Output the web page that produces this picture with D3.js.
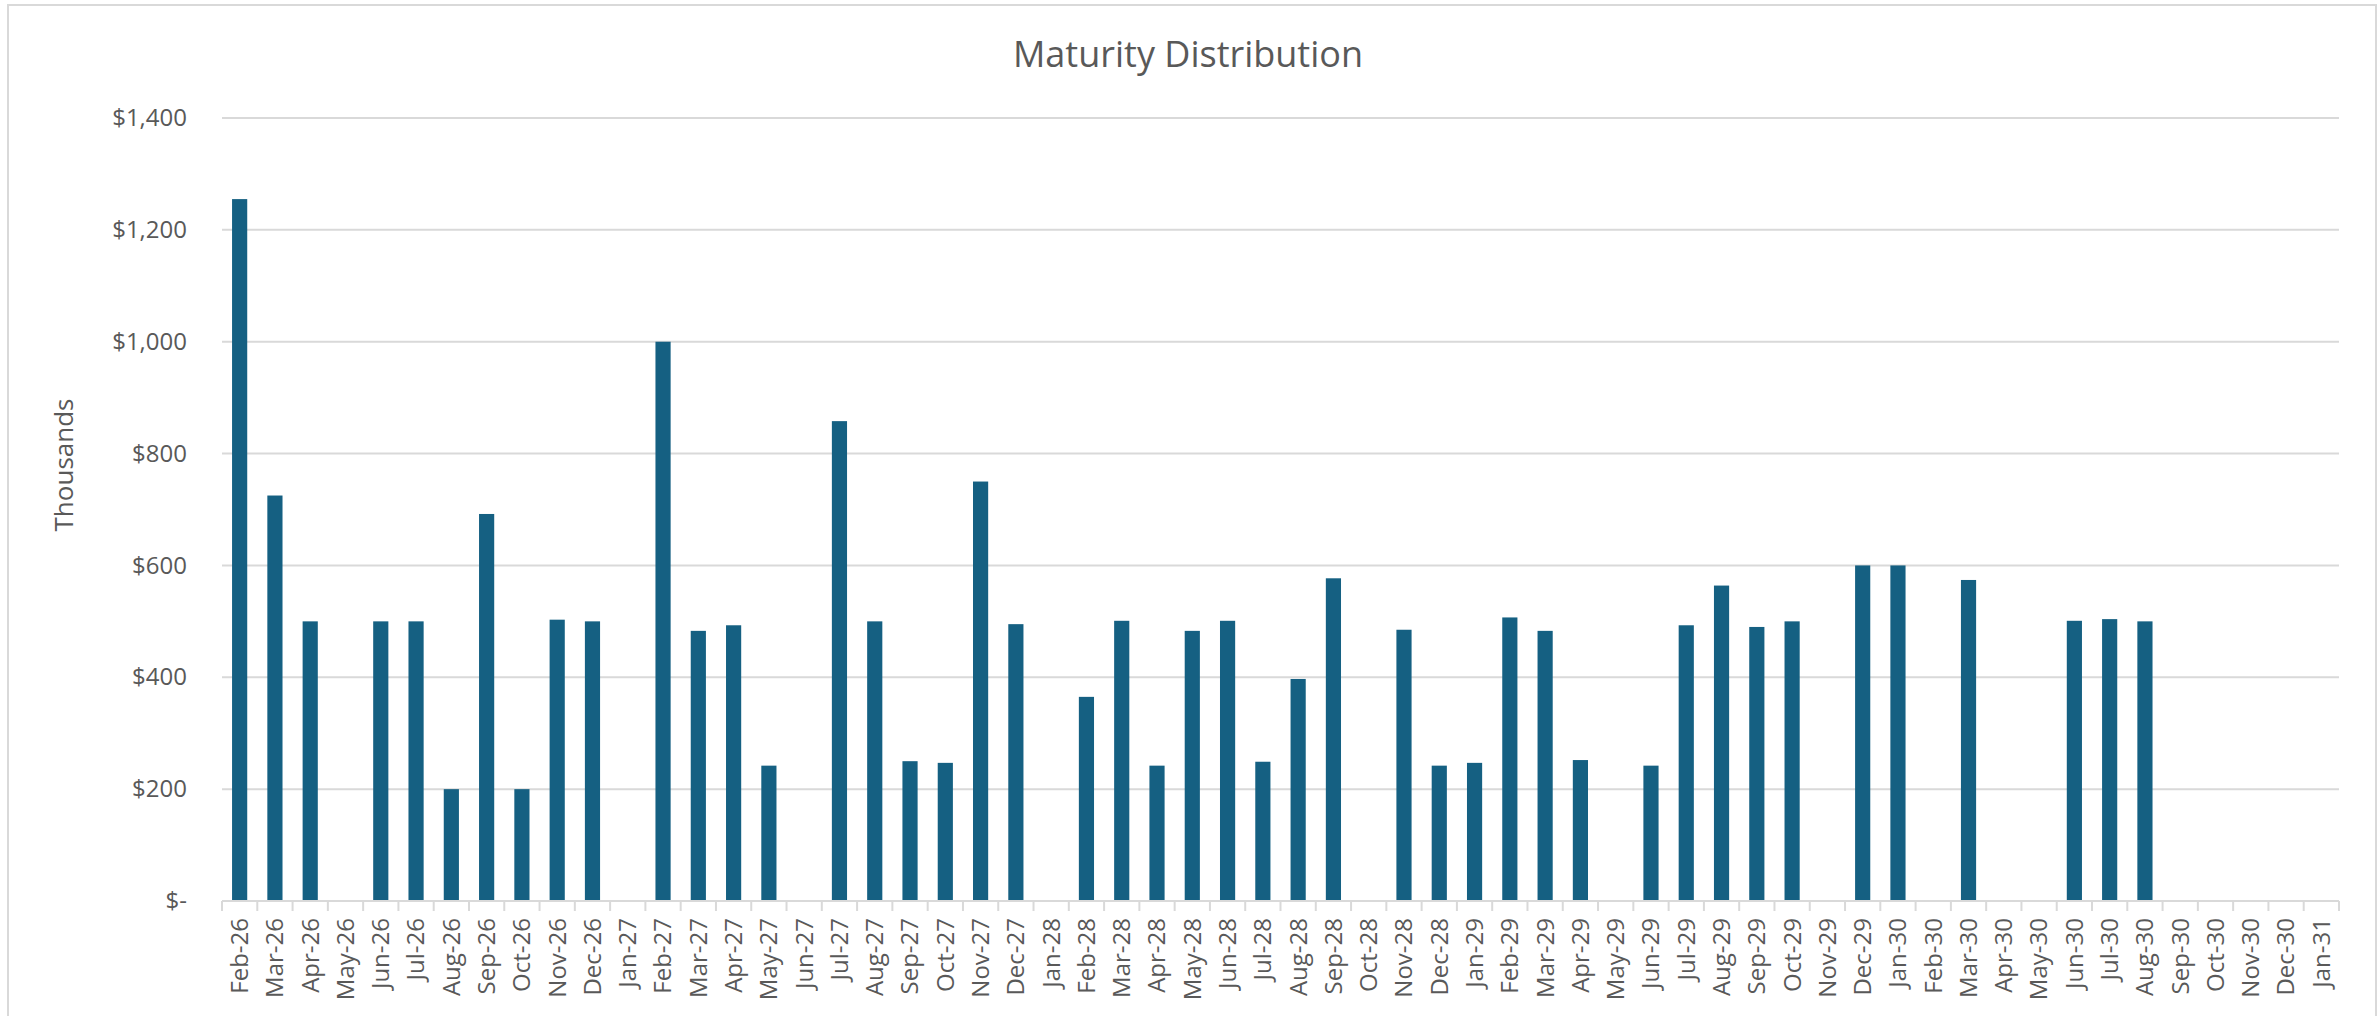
<!DOCTYPE html>
<html>
<head>
<meta charset="utf-8">
<script src="https://cdn.jsdelivr.net/npm/d3@7"></script>
<style>
  body { margin: 0; background: #fff; }
  text { font-family: "Open Sans", sans-serif; fill: #595959; }
</style>
</head>
<body>
<script>
// Chart data
var months = ["Feb-26","Mar-26","Apr-26","May-26","Jun-26","Jul-26","Aug-26","Sep-26","Oct-26","Nov-26","Dec-26","Jan-27",
              "Feb-27","Mar-27","Apr-27","May-27","Jun-27","Jul-27","Aug-27","Sep-27","Oct-27","Nov-27","Dec-27","Jan-28",
              "Feb-28","Mar-28","Apr-28","May-28","Jun-28","Jul-28","Aug-28","Sep-28","Oct-28","Nov-28","Dec-28","Jan-29",
              "Feb-29","Mar-29","Apr-29","May-29","Jun-29","Jul-29","Aug-29","Sep-29","Oct-29","Nov-29","Dec-29","Jan-30",
              "Feb-30","Mar-30","Apr-30","May-30","Jun-30","Jul-30","Aug-30","Sep-30","Oct-30","Nov-30","Dec-30","Jan-31"];

// Amounts maturing, in thousands of dollars
var amounts = [1255, 725, 500, 0, 500, 500, 200, 692, 200, 503, 500, 0,
               1000, 483, 493, 242, 0, 858, 500, 250, 247, 750, 495, 0,
               365, 501, 242, 483, 501, 249, 397, 577, 0, 485, 242, 247,
               507, 483, 252, 0, 242, 493, 564, 490, 500, 0, 600, 600,
               0, 574, 0, 0, 501, 504, 500, 0, 0, 0, 0, 0];

var yTicks = [0, 200, 400, 600, 800, 1000, 1200, 1400];

var svgWidth = 2379;
var svgHeight = 1016;

var margin = { top: 118, right: 40, bottom: 115, left: 222 };
var plotRight = 2339;
var plotBottom = svgHeight - margin.bottom;

var svg = d3.select("body")
            .append("svg")
            .attr("width", svgWidth)
            .attr("height", svgHeight);

// chart frame
svg.append("rect")
   .attr("x", 8)
   .attr("y", 5)
   .attr("width", 2368)
   .attr("height", 1030)
   .attr("fill", "none")
   .attr("stroke", "#d9d9d9")
   .attr("stroke-width", 2);

var x = d3.scaleBand()
          .domain(months)
          .range([margin.left, plotRight])
          .paddingInner(0.57)
          .paddingOuter(0.285);

var y = d3.scaleLinear()
          .domain([0, 1400])
          .range([plotBottom, margin.top]);

// gridlines
svg.append("g")
   .selectAll("line")
   .data(yTicks.filter(d => d > 0))
   .enter()
   .append("line")
   .attr("x1", margin.left)
   .attr("x2", plotRight)
   .attr("y1", d => y(d))
   .attr("y2", d => y(d))
   .attr("stroke", "#d9d9d9")
   .attr("stroke-width", 2);

// y axis labels
var yAxis = svg.append("g")
               .attr("transform", "translate(" + margin.left + ",0)")
               .call(d3.axisLeft(y)
                       .tickValues(yTicks)
                       .tickSize(0)
                       .tickPadding(35)
                       .tickFormat(d => d === 0 ? "$-" : "$" + d3.format(",")(d)));
yAxis.select(".domain").remove();
yAxis.selectAll("text").style("font-size", "24px");

// bars
svg.append("g")
   .selectAll("rect")
   .data(amounts)
   .enter()
   .append("rect")
   .attr("x", (d, i) => x(months[i]))
   .attr("y", d => y(d))
   .attr("width", x.bandwidth())
   .attr("height", d => plotBottom - y(d))
   .attr("fill", "#156082");

// x axis with labels at category centres
var xAxis = svg.append("g")
               .attr("transform", "translate(0," + plotBottom + ")")
               .call(d3.axisBottom(x).tickSize(0));
xAxis.select(".domain").remove();
xAxis.selectAll("text")
     .attr("transform", "rotate(-90)")
     .attr("text-anchor", "end")
     .attr("x", -17)
     .attr("y", 0)
     .attr("dy", "0.35em")
     .style("font-size", "24px");

// axis line and tick marks between categories
var gap = (x.step() - x.bandwidth()) / 2;
var bounds = months.map(m => x(m) - gap).concat([plotRight]);

svg.append("line")
   .attr("x1", margin.left)
   .attr("x2", plotRight)
   .attr("y1", plotBottom)
   .attr("y2", plotBottom)
   .attr("stroke", "#d9d9d9")
   .attr("stroke-width", 2);

svg.append("g")
   .selectAll("line")
   .data(bounds)
   .enter()
   .append("line")
   .attr("x1", d => d)
   .attr("x2", d => d)
   .attr("y1", plotBottom)
   .attr("y2", plotBottom + 10)
   .attr("stroke", "#d9d9d9")
   .attr("stroke-width", 2);

// title
svg.append("text")
   .attr("x", 1188)
   .attr("y", 67)
   .attr("text-anchor", "middle")
   .style("font-size", "36px")
   .text("Maturity Distribution");

// y axis title
svg.append("text")
   .attr("transform", "translate(73,465) rotate(-90)")
   .attr("text-anchor", "middle")
   .style("font-size", "26px")
   .text("Thousands");
</script>
</body>
</html>
